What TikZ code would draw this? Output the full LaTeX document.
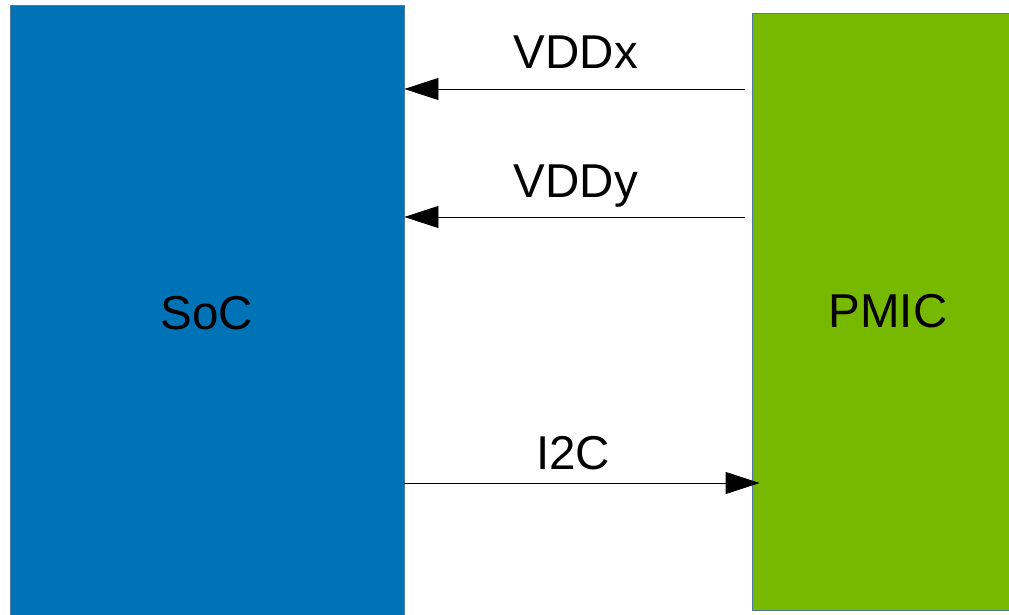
\documentclass[tikz,border=0pt]{standalone}
\usepackage{fontspec}
\setmainfont{Liberation Sans}
\usetikzlibrary{arrows.meta}
\definecolor{socblue}{RGB}{0,115,183}
\definecolor{pmicgreen}{RGB}{119,185,0}
\definecolor{edgeblue}{RGB}{80,120,160}
\begin{document}
\begin{tikzpicture}[x=1pt,y=-1pt,
  block/.style={draw=edgeblue,line width=0.8pt,inner sep=0pt,font=\fontsize{47.5}{47.5}\selectfont},
  arr/.style={line width=0.8pt,-{Triangle[length=34pt,width=22pt]}},
  lbl/.style={font=\fontsize{47.5}{47.5}\selectfont,anchor=base,inner sep=0pt}]
\useasboundingbox (0,0) rectangle (1009,615);
% processor block (runs off the bottom edge)
\node[block,fill=socblue,minimum width=394pt,minimum height=616pt] (soc) at (207,313) {SoC};
% power management block (runs off the right edge)
\node[block,fill=pmicgreen,minimum width=272pt,minimum height=597pt] (pmic) at (888,311.5) {PMIC};
% supply rails and control bus
\draw[arr,shorten <=7pt] (pmic.west |- 0,89) -- (soc.east |- 0,89);
\draw[arr,shorten <=7pt] (pmic.west |- 0,217) -- (soc.east |- 0,217);
\draw[arr,shorten >=-8pt] (soc.east |- 0,483) -- (pmic.west |- 0,483);
\node[lbl] (vddx) at (576,69) {VDDx};
\node[lbl] (vddy) at (576,197) {VDDy};
\node[lbl] (i2c) at (573,469) {I2C};
\end{tikzpicture}
\end{document}
